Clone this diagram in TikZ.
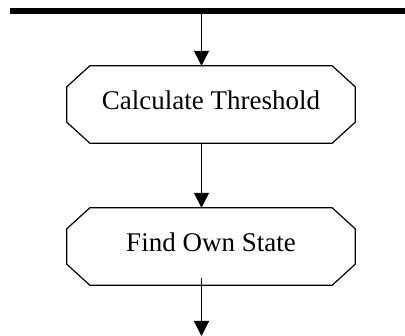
\documentclass[tikz,border=0pt]{standalone}
\usepackage{fontspec}
\setmainfont{Liberation Serif}
\usetikzlibrary{arrows.meta}
\begin{document}
\begin{tikzpicture}[x=1pt,y=-1pt,
  box/.style={rectangle, minimum width=288pt, minimum height=77pt, inner sep=0pt,
    text depth=8pt, font=\fontsize{27}{30}\selectfont},
  outline/.style={line width=1.2pt, line join=miter},
  flow/.style={line width=1.2pt, -{Triangle[length=15pt,width=15pt]}}]
\useasboundingbox (0,0) rectangle (405,336);
\coordinate (barL) at (10,11);
\coordinate (barR) at (405,11);
\draw[line width=5.8pt] (barL) -- (barR);
\node[box] (b1) at (211,104.5) {Calculate Threshold};
\node[box] (b2) at (211,246.5) {Find Own State};
\foreach \b in {b1,b2}{
  \draw[outline] ([xshift=23pt]\b.north west) -- ([xshift=-23pt]\b.north east)
    -- ([yshift=-21pt]\b.north east) -- ([yshift=21pt]\b.south east)
    -- ([xshift=-23pt]\b.south east) -- ([xshift=23pt]\b.south west)
    -- ([yshift=21pt]\b.south west) -- ([yshift=-21pt]\b.north west) -- cycle;
}
\coordinate (a0) at (201.5,14);
\coordinate (a3) at (201.5,278);
\coordinate (end) at (201.5,336);
\draw[flow] (a0) -- (a0 |- b1.north);
\draw[flow] (a0 |- b1.south) -- (a0 |- b2.north);
\draw[flow] (a3) -- (end);
\end{tikzpicture}
\end{document}
